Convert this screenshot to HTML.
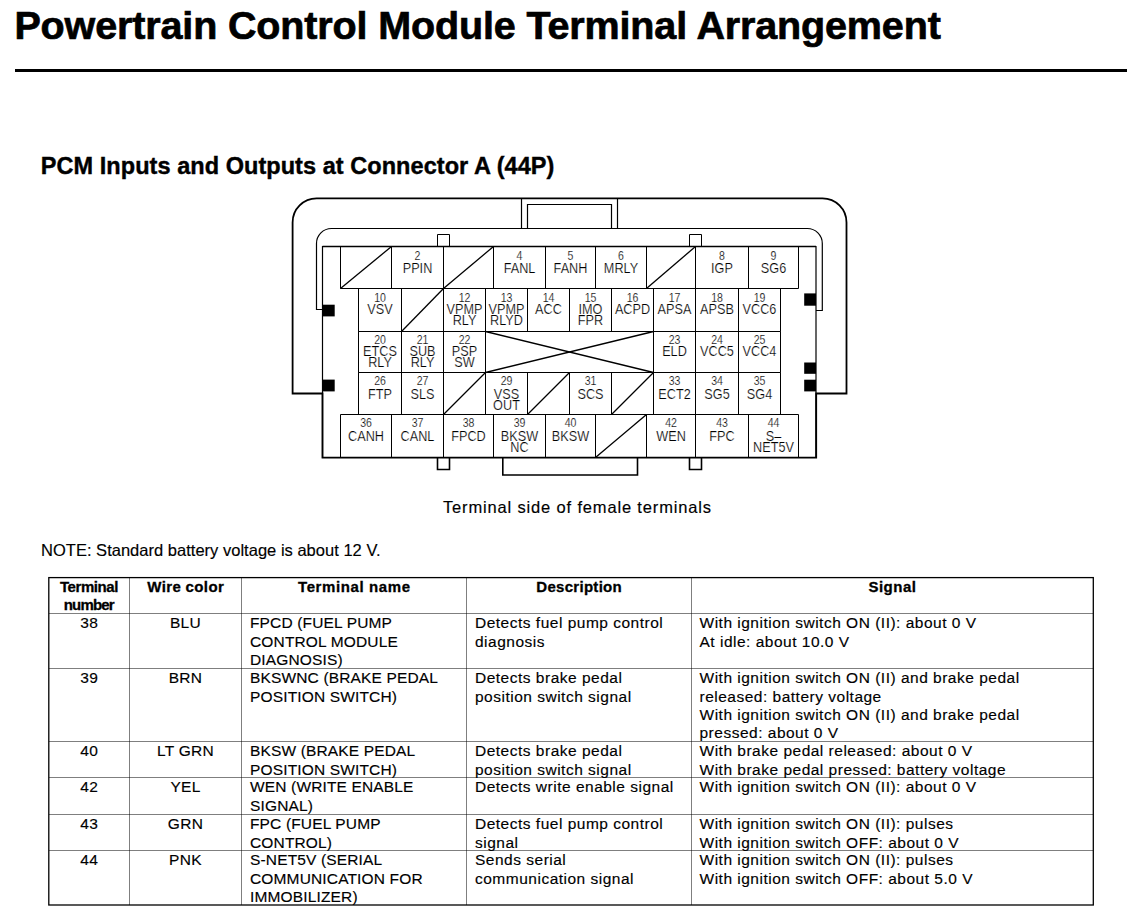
<!DOCTYPE html>
<html><head><meta charset="utf-8"><title>Powertrain Control Module Terminal Arrangement</title>
<style>
html,body{margin:0;padding:0;background:#fff;}
body{width:1134px;height:918px;overflow:hidden;position:relative;}
svg{position:absolute;left:0;top:0;display:block;}
text{font-family:"Liberation Sans", sans-serif;}
</style></head>
<body>
<svg width="1134" height="918" viewBox="0 0 1134 918" shape-rendering="auto">
<rect x="0" y="0" width="1134" height="918" fill="#fff"/>
<text x="14.4" y="39.2" font-size="39.5" font-weight="bold" textLength="926.4" lengthAdjust="spacing" stroke="#000" stroke-width="0.7">Powertrain Control Module Terminal Arrangement</text>
<rect x="15" y="69" width="1112" height="3" fill="#000"/>
<text x="40.8" y="174" font-size="23.5" font-weight="bold" textLength="513.6" lengthAdjust="spacing" stroke="#000" stroke-width="0.4">PCM Inputs and Outputs at Connector A (44P)</text>
<path d="M322.5 457.7 V393.5 H292.6 V222.4 A24 24 0 0 1 316.6 198.4 H822.5 A24 24 0 0 1 846.5 222.4 V393.5 H816.2 V457.7 Z" fill="none" stroke="#000" stroke-width="1.8"/>
<path d="M322.5 309.5 H316.5 V243.5 A15 15 0 0 1 331.5 228.5 H807.3 A15 15 0 0 1 822.3 243.5 V310.5 H816" fill="none" stroke="#000" stroke-width="1.2"/>
<path d="M521.5 198.4 V228.5" fill="none" stroke="#000" stroke-width="1.2"/>
<path d="M617.5 198.4 V228.5" fill="none" stroke="#000" stroke-width="1.2"/>
<path d="M527.5 228.5 V204.5 H611.5 V228.5" fill="none" stroke="#000" stroke-width="1.2"/>
<path d="M322.5 246.5 H816.0 V457.5 H322.5 Z" fill="none" stroke="#000" stroke-width="1.2"/>
<path d="M322.5 246.5 H816.0" fill="none" stroke="#000" stroke-width="1.5"/>
<path d="M437.5 246.5 V234.5 H449.5 V246.5" fill="none" stroke="#000" stroke-width="1.0"/>
<path d="M437.5 457.5 V469.5 H449.5 V457.5" fill="none" stroke="#000" stroke-width="1.6"/>
<path d="M689.5 246.5 V234.5 H701.5 V246.5" fill="none" stroke="#000" stroke-width="1.0"/>
<path d="M689.5 457.5 V469.5 H701.5 V457.5" fill="none" stroke="#000" stroke-width="1.6"/>
<path d="M502.8 457.5 V475 H637.5 V457.5" fill="none" stroke="#000" stroke-width="1.6"/>
<rect x="322.5" y="304.7" width="12.2" height="11.7" fill="#000"/>
<rect x="322.5" y="379.6" width="12.2" height="11.8" fill="#000"/>
<rect x="804.2" y="293.4" width="11.8" height="12.3" fill="#000"/>
<rect x="804.2" y="362.5" width="11.8" height="11.3" fill="#000"/>
<rect x="804.2" y="379.7" width="11.8" height="11.7" fill="#000"/>
<path d="M340.5 246.5 H798.5" fill="none" stroke="#000" stroke-width="1.0"/>
<path d="M340.5 288.5 H798.5" fill="none" stroke="#000" stroke-width="1.0"/>
<line x1="340.5" y1="246.5" x2="340.5" y2="288.5" stroke="#000" stroke-width="1.0"/>
<line x1="340.5" y1="288.5" x2="391.5" y2="246.5" stroke="#000" stroke-width="1.3"/>
<line x1="391.5" y1="246.5" x2="391.5" y2="288.5" stroke="#000" stroke-width="1.0"/>
<text transform="translate(417.5 259.9) scale(0.88 1)" font-size="12" text-anchor="middle" stroke="#fff" stroke-width="0.2">2</text>
<text transform="translate(417.5 272.9) scale(0.92 1)" font-size="13.8" text-anchor="middle" stroke="#fff" stroke-width="0.2">PPIN</text>
<line x1="443.5" y1="246.5" x2="443.5" y2="288.5" stroke="#000" stroke-width="1.0"/>
<line x1="443.5" y1="288.5" x2="493.5" y2="246.5" stroke="#000" stroke-width="1.3"/>
<line x1="493.5" y1="246.5" x2="493.5" y2="288.5" stroke="#000" stroke-width="1.0"/>
<text transform="translate(519.5 259.9) scale(0.88 1)" font-size="12" text-anchor="middle" stroke="#fff" stroke-width="0.2">4</text>
<text transform="translate(519.5 272.9) scale(0.92 1)" font-size="13.8" text-anchor="middle" stroke="#fff" stroke-width="0.2">FANL</text>
<line x1="545.5" y1="246.5" x2="545.5" y2="288.5" stroke="#000" stroke-width="1.0"/>
<text transform="translate(570.5 259.9) scale(0.88 1)" font-size="12" text-anchor="middle" stroke="#fff" stroke-width="0.2">5</text>
<text transform="translate(570.5 272.9) scale(0.92 1)" font-size="13.8" text-anchor="middle" stroke="#fff" stroke-width="0.2">FANH</text>
<line x1="595.5" y1="246.5" x2="595.5" y2="288.5" stroke="#000" stroke-width="1.0"/>
<text transform="translate(621.0 259.9) scale(0.88 1)" font-size="12" text-anchor="middle" stroke="#fff" stroke-width="0.2">6</text>
<text transform="translate(621.0 272.9) scale(0.92 1)" font-size="13.8" text-anchor="middle" stroke="#fff" stroke-width="0.2">MRLY</text>
<line x1="646.5" y1="246.5" x2="646.5" y2="288.5" stroke="#000" stroke-width="1.0"/>
<line x1="646.5" y1="288.5" x2="695.5" y2="246.5" stroke="#000" stroke-width="1.3"/>
<line x1="695.5" y1="246.5" x2="695.5" y2="288.5" stroke="#000" stroke-width="1.0"/>
<text transform="translate(722.0 259.9) scale(0.88 1)" font-size="12" text-anchor="middle" stroke="#fff" stroke-width="0.2">8</text>
<text transform="translate(722.0 272.9) scale(0.92 1)" font-size="13.8" text-anchor="middle" stroke="#fff" stroke-width="0.2">IGP</text>
<line x1="748.5" y1="246.5" x2="748.5" y2="288.5" stroke="#000" stroke-width="1.0"/>
<text transform="translate(773.5 259.9) scale(0.88 1)" font-size="12" text-anchor="middle" stroke="#fff" stroke-width="0.2">9</text>
<text transform="translate(773.5 272.9) scale(0.92 1)" font-size="13.8" text-anchor="middle" stroke="#fff" stroke-width="0.2">SG6</text>
<line x1="798.5" y1="246.5" x2="798.5" y2="288.5" stroke="#000" stroke-width="1.0"/>
<path d="M358.5 288.5 H780.5" fill="none" stroke="#000" stroke-width="1.0"/>
<path d="M358.5 331.5 H780.5" fill="none" stroke="#000" stroke-width="1.0"/>
<line x1="358.5" y1="288.5" x2="358.5" y2="331.5" stroke="#000" stroke-width="1.0"/>
<text transform="translate(380.0 301.6) scale(0.88 1)" font-size="12" text-anchor="middle" stroke="#fff" stroke-width="0.2">10</text>
<text transform="translate(380.0 314.3) scale(0.92 1)" font-size="13.8" text-anchor="middle" stroke="#fff" stroke-width="0.2">VSV</text>
<line x1="401.5" y1="288.5" x2="401.5" y2="331.5" stroke="#000" stroke-width="1.0"/>
<line x1="401.5" y1="331.5" x2="443.5" y2="288.5" stroke="#000" stroke-width="1.3"/>
<line x1="443.5" y1="288.5" x2="443.5" y2="331.5" stroke="#000" stroke-width="1.0"/>
<text transform="translate(464.5 301.6) scale(0.88 1)" font-size="12" text-anchor="middle" stroke="#fff" stroke-width="0.2">12</text>
<text transform="translate(464.5 314.3) scale(0.92 1)" font-size="13.8" text-anchor="middle" stroke="#fff" stroke-width="0.2">VPMP</text>
<text transform="translate(464.5 325.4) scale(0.92 1)" font-size="13.8" text-anchor="middle" stroke="#fff" stroke-width="0.2">RLY</text>
<line x1="485.5" y1="288.5" x2="485.5" y2="331.5" stroke="#000" stroke-width="1.0"/>
<text transform="translate(506.5 301.6) scale(0.88 1)" font-size="12" text-anchor="middle" stroke="#fff" stroke-width="0.2">13</text>
<text transform="translate(506.5 314.3) scale(0.92 1)" font-size="13.8" text-anchor="middle" stroke="#fff" stroke-width="0.2">VPMP</text>
<text transform="translate(506.5 325.4) scale(0.92 1)" font-size="13.8" text-anchor="middle" stroke="#fff" stroke-width="0.2">RLYD</text>
<line x1="527.5" y1="288.5" x2="527.5" y2="331.5" stroke="#000" stroke-width="1.0"/>
<text transform="translate(548.5 301.6) scale(0.88 1)" font-size="12" text-anchor="middle" stroke="#fff" stroke-width="0.2">14</text>
<text transform="translate(548.5 314.3) scale(0.92 1)" font-size="13.8" text-anchor="middle" stroke="#fff" stroke-width="0.2">ACC</text>
<line x1="569.5" y1="288.5" x2="569.5" y2="331.5" stroke="#000" stroke-width="1.0"/>
<text transform="translate(590.5 301.6) scale(0.88 1)" font-size="12" text-anchor="middle" stroke="#fff" stroke-width="0.2">15</text>
<text transform="translate(590.5 314.3) scale(0.92 1)" font-size="13.8" text-anchor="middle" stroke="#fff" stroke-width="0.2">IMO</text>
<text transform="translate(590.5 325.4) scale(0.92 1)" font-size="13.8" text-anchor="middle" stroke="#fff" stroke-width="0.2">FPR</text>
<line x1="611.5" y1="288.5" x2="611.5" y2="331.5" stroke="#000" stroke-width="1.0"/>
<text transform="translate(632.5 301.6) scale(0.88 1)" font-size="12" text-anchor="middle" stroke="#fff" stroke-width="0.2">16</text>
<text transform="translate(632.5 314.3) scale(0.92 1)" font-size="13.8" text-anchor="middle" stroke="#fff" stroke-width="0.2">ACPD</text>
<line x1="653.5" y1="288.5" x2="653.5" y2="331.5" stroke="#000" stroke-width="1.0"/>
<text transform="translate(674.5 301.6) scale(0.88 1)" font-size="12" text-anchor="middle" stroke="#fff" stroke-width="0.2">17</text>
<text transform="translate(674.5 314.3) scale(0.92 1)" font-size="13.8" text-anchor="middle" stroke="#fff" stroke-width="0.2">APSA</text>
<line x1="695.5" y1="288.5" x2="695.5" y2="331.5" stroke="#000" stroke-width="1.0"/>
<text transform="translate(717.0 301.6) scale(0.88 1)" font-size="12" text-anchor="middle" stroke="#fff" stroke-width="0.2">18</text>
<text transform="translate(717.0 314.3) scale(0.92 1)" font-size="13.8" text-anchor="middle" stroke="#fff" stroke-width="0.2">APSB</text>
<line x1="738.5" y1="288.5" x2="738.5" y2="331.5" stroke="#000" stroke-width="1.0"/>
<text transform="translate(759.5 301.6) scale(0.88 1)" font-size="12" text-anchor="middle" stroke="#fff" stroke-width="0.2">19</text>
<text transform="translate(759.5 314.3) scale(0.92 1)" font-size="13.8" text-anchor="middle" stroke="#fff" stroke-width="0.2">VCC6</text>
<line x1="780.5" y1="288.5" x2="780.5" y2="331.5" stroke="#000" stroke-width="1.0"/>
<path d="M358.5 331.5 H780.5" fill="none" stroke="#000" stroke-width="1.0"/>
<path d="M358.5 372.5 H780.5" fill="none" stroke="#000" stroke-width="1.0"/>
<line x1="358.5" y1="331.5" x2="358.5" y2="372.5" stroke="#000" stroke-width="1.0"/>
<text transform="translate(380.0 343.5) scale(0.88 1)" font-size="12" text-anchor="middle" stroke="#fff" stroke-width="0.2">20</text>
<text transform="translate(380.0 356.2) scale(0.92 1)" font-size="13.8" text-anchor="middle" stroke="#fff" stroke-width="0.2">ETCS</text>
<text transform="translate(380.0 366.7) scale(0.92 1)" font-size="13.8" text-anchor="middle" stroke="#fff" stroke-width="0.2">RLY</text>
<line x1="401.5" y1="331.5" x2="401.5" y2="372.5" stroke="#000" stroke-width="1.0"/>
<text transform="translate(422.5 343.5) scale(0.88 1)" font-size="12" text-anchor="middle" stroke="#fff" stroke-width="0.2">21</text>
<text transform="translate(422.5 356.2) scale(0.92 1)" font-size="13.8" text-anchor="middle" stroke="#fff" stroke-width="0.2">SUB</text>
<text transform="translate(422.5 366.7) scale(0.92 1)" font-size="13.8" text-anchor="middle" stroke="#fff" stroke-width="0.2">RLY</text>
<line x1="443.5" y1="331.5" x2="443.5" y2="372.5" stroke="#000" stroke-width="1.0"/>
<text transform="translate(464.5 343.5) scale(0.88 1)" font-size="12" text-anchor="middle" stroke="#fff" stroke-width="0.2">22</text>
<text transform="translate(464.5 356.2) scale(0.92 1)" font-size="13.8" text-anchor="middle" stroke="#fff" stroke-width="0.2">PSP</text>
<text transform="translate(464.5 366.7) scale(0.92 1)" font-size="13.8" text-anchor="middle" stroke="#fff" stroke-width="0.2">SW</text>
<line x1="485.5" y1="331.5" x2="485.5" y2="372.5" stroke="#000" stroke-width="1.0"/>
<line x1="653.5" y1="331.5" x2="653.5" y2="372.5" stroke="#000" stroke-width="1.0"/>
<text transform="translate(674.5 343.5) scale(0.88 1)" font-size="12" text-anchor="middle" stroke="#fff" stroke-width="0.2">23</text>
<text transform="translate(674.5 356.2) scale(0.92 1)" font-size="13.8" text-anchor="middle" stroke="#fff" stroke-width="0.2">ELD</text>
<line x1="695.5" y1="331.5" x2="695.5" y2="372.5" stroke="#000" stroke-width="1.0"/>
<text transform="translate(717.0 343.5) scale(0.88 1)" font-size="12" text-anchor="middle" stroke="#fff" stroke-width="0.2">24</text>
<text transform="translate(717.0 356.2) scale(0.92 1)" font-size="13.8" text-anchor="middle" stroke="#fff" stroke-width="0.2">VCC5</text>
<line x1="738.5" y1="331.5" x2="738.5" y2="372.5" stroke="#000" stroke-width="1.0"/>
<text transform="translate(759.5 343.5) scale(0.88 1)" font-size="12" text-anchor="middle" stroke="#fff" stroke-width="0.2">25</text>
<text transform="translate(759.5 356.2) scale(0.92 1)" font-size="13.8" text-anchor="middle" stroke="#fff" stroke-width="0.2">VCC4</text>
<line x1="780.5" y1="331.5" x2="780.5" y2="372.5" stroke="#000" stroke-width="1.0"/>
<path d="M358.5 372.5 H780.5" fill="none" stroke="#000" stroke-width="1.0"/>
<path d="M358.5 414.5 H780.5" fill="none" stroke="#000" stroke-width="1.0"/>
<line x1="358.5" y1="372.5" x2="358.5" y2="414.5" stroke="#000" stroke-width="1.0"/>
<text transform="translate(380.0 384.8) scale(0.88 1)" font-size="12" text-anchor="middle" stroke="#fff" stroke-width="0.2">26</text>
<text transform="translate(380.0 398.6) scale(0.92 1)" font-size="13.8" text-anchor="middle" stroke="#fff" stroke-width="0.2">FTP</text>
<line x1="401.5" y1="372.5" x2="401.5" y2="414.5" stroke="#000" stroke-width="1.0"/>
<text transform="translate(422.5 384.8) scale(0.88 1)" font-size="12" text-anchor="middle" stroke="#fff" stroke-width="0.2">27</text>
<text transform="translate(422.5 398.6) scale(0.92 1)" font-size="13.8" text-anchor="middle" stroke="#fff" stroke-width="0.2">SLS</text>
<line x1="443.5" y1="372.5" x2="443.5" y2="414.5" stroke="#000" stroke-width="1.0"/>
<line x1="443.5" y1="414.5" x2="485.5" y2="372.5" stroke="#000" stroke-width="1.3"/>
<line x1="485.5" y1="372.5" x2="485.5" y2="414.5" stroke="#000" stroke-width="1.0"/>
<text transform="translate(506.5 384.8) scale(0.88 1)" font-size="12" text-anchor="middle" stroke="#fff" stroke-width="0.2">29</text>
<text transform="translate(506.5 398.6) scale(0.92 1)" font-size="13.8" text-anchor="middle" stroke="#fff" stroke-width="0.2">VSS</text>
<text transform="translate(506.5 409.6) scale(0.92 1)" font-size="13.8" text-anchor="middle" stroke="#fff" stroke-width="0.2">OUT</text>
<line x1="527.5" y1="372.5" x2="527.5" y2="414.5" stroke="#000" stroke-width="1.0"/>
<line x1="527.5" y1="414.5" x2="569.5" y2="372.5" stroke="#000" stroke-width="1.3"/>
<line x1="569.5" y1="372.5" x2="569.5" y2="414.5" stroke="#000" stroke-width="1.0"/>
<text transform="translate(590.5 384.8) scale(0.88 1)" font-size="12" text-anchor="middle" stroke="#fff" stroke-width="0.2">31</text>
<text transform="translate(590.5 398.6) scale(0.92 1)" font-size="13.8" text-anchor="middle" stroke="#fff" stroke-width="0.2">SCS</text>
<line x1="611.5" y1="372.5" x2="611.5" y2="414.5" stroke="#000" stroke-width="1.0"/>
<line x1="611.5" y1="414.5" x2="653.5" y2="372.5" stroke="#000" stroke-width="1.3"/>
<line x1="653.5" y1="372.5" x2="653.5" y2="414.5" stroke="#000" stroke-width="1.0"/>
<text transform="translate(674.5 384.8) scale(0.88 1)" font-size="12" text-anchor="middle" stroke="#fff" stroke-width="0.2">33</text>
<text transform="translate(674.5 398.6) scale(0.92 1)" font-size="13.8" text-anchor="middle" stroke="#fff" stroke-width="0.2">ECT2</text>
<line x1="695.5" y1="372.5" x2="695.5" y2="414.5" stroke="#000" stroke-width="1.0"/>
<text transform="translate(717.0 384.8) scale(0.88 1)" font-size="12" text-anchor="middle" stroke="#fff" stroke-width="0.2">34</text>
<text transform="translate(717.0 398.6) scale(0.92 1)" font-size="13.8" text-anchor="middle" stroke="#fff" stroke-width="0.2">SG5</text>
<line x1="738.5" y1="372.5" x2="738.5" y2="414.5" stroke="#000" stroke-width="1.0"/>
<text transform="translate(759.5 384.8) scale(0.88 1)" font-size="12" text-anchor="middle" stroke="#fff" stroke-width="0.2">35</text>
<text transform="translate(759.5 398.6) scale(0.92 1)" font-size="13.8" text-anchor="middle" stroke="#fff" stroke-width="0.2">SG4</text>
<line x1="780.5" y1="372.5" x2="780.5" y2="414.5" stroke="#000" stroke-width="1.0"/>
<path d="M340.5 414.5 H798.5" fill="none" stroke="#000" stroke-width="1.0"/>
<path d="M340.5 457.5 H798.5" fill="none" stroke="#000" stroke-width="1.0"/>
<line x1="340.5" y1="414.5" x2="340.5" y2="457.5" stroke="#000" stroke-width="1.0"/>
<text transform="translate(366.0 427.0) scale(0.88 1)" font-size="12" text-anchor="middle" stroke="#fff" stroke-width="0.2">36</text>
<text transform="translate(366.0 440.6) scale(0.92 1)" font-size="13.8" text-anchor="middle" stroke="#fff" stroke-width="0.2">CANH</text>
<line x1="391.5" y1="414.5" x2="391.5" y2="457.5" stroke="#000" stroke-width="1.0"/>
<text transform="translate(417.5 427.0) scale(0.88 1)" font-size="12" text-anchor="middle" stroke="#fff" stroke-width="0.2">37</text>
<text transform="translate(417.5 440.6) scale(0.92 1)" font-size="13.8" text-anchor="middle" stroke="#fff" stroke-width="0.2">CANL</text>
<line x1="443.5" y1="414.5" x2="443.5" y2="457.5" stroke="#000" stroke-width="1.0"/>
<text transform="translate(468.5 427.0) scale(0.88 1)" font-size="12" text-anchor="middle" stroke="#fff" stroke-width="0.2">38</text>
<text transform="translate(468.5 440.6) scale(0.92 1)" font-size="13.8" text-anchor="middle" stroke="#fff" stroke-width="0.2">FPCD</text>
<line x1="493.5" y1="414.5" x2="493.5" y2="457.5" stroke="#000" stroke-width="1.0"/>
<text transform="translate(519.5 427.0) scale(0.88 1)" font-size="12" text-anchor="middle" stroke="#fff" stroke-width="0.2">39</text>
<text transform="translate(519.5 440.6) scale(0.92 1)" font-size="13.8" text-anchor="middle" stroke="#fff" stroke-width="0.2">BKSW</text>
<text transform="translate(519.5 451.7) scale(0.92 1)" font-size="13.8" text-anchor="middle" stroke="#fff" stroke-width="0.2">NC</text>
<line x1="545.5" y1="414.5" x2="545.5" y2="457.5" stroke="#000" stroke-width="1.0"/>
<text transform="translate(570.5 427.0) scale(0.88 1)" font-size="12" text-anchor="middle" stroke="#fff" stroke-width="0.2">40</text>
<text transform="translate(570.5 440.6) scale(0.92 1)" font-size="13.8" text-anchor="middle" stroke="#fff" stroke-width="0.2">BKSW</text>
<line x1="595.5" y1="414.5" x2="595.5" y2="457.5" stroke="#000" stroke-width="1.0"/>
<line x1="595.5" y1="457.5" x2="646.5" y2="414.5" stroke="#000" stroke-width="1.3"/>
<line x1="646.5" y1="414.5" x2="646.5" y2="457.5" stroke="#000" stroke-width="1.0"/>
<text transform="translate(671.0 427.0) scale(0.88 1)" font-size="12" text-anchor="middle" stroke="#fff" stroke-width="0.2">42</text>
<text transform="translate(671.0 440.6) scale(0.92 1)" font-size="13.8" text-anchor="middle" stroke="#fff" stroke-width="0.2">WEN</text>
<line x1="695.5" y1="414.5" x2="695.5" y2="457.5" stroke="#000" stroke-width="1.0"/>
<text transform="translate(722.0 427.0) scale(0.88 1)" font-size="12" text-anchor="middle" stroke="#fff" stroke-width="0.2">43</text>
<text transform="translate(722.0 440.6) scale(0.92 1)" font-size="13.8" text-anchor="middle" stroke="#fff" stroke-width="0.2">FPC</text>
<line x1="748.5" y1="414.5" x2="748.5" y2="457.5" stroke="#000" stroke-width="1.0"/>
<text transform="translate(773.5 427.0) scale(0.88 1)" font-size="12" text-anchor="middle" stroke="#fff" stroke-width="0.2">44</text>
<text transform="translate(773.5 440.6) scale(0.92 1)" font-size="13.8" text-anchor="middle" stroke="#fff" stroke-width="0.2">S–</text>
<text transform="translate(773.5 451.7) scale(0.92 1)" font-size="13.8" text-anchor="middle" stroke="#fff" stroke-width="0.2">NET5V</text>
<line x1="798.5" y1="414.5" x2="798.5" y2="457.5" stroke="#000" stroke-width="1.0"/>
<line x1="485.5" y1="331.5" x2="653.5" y2="372.5" stroke="#000" stroke-width="1.3"/>
<line x1="485.5" y1="372.5" x2="653.5" y2="331.5" stroke="#000" stroke-width="1.3"/>
<text x="443" y="512.5" font-size="16.5" textLength="268" lengthAdjust="spacing" stroke="#000" stroke-width="0.15">Terminal side of female terminals</text>
<text x="41" y="556" font-size="16.5" textLength="339.5" lengthAdjust="spacing" stroke="#000" stroke-width="0.15">NOTE: Standard battery voltage is about 12 V.</text>
<line x1="129.5" y1="578" x2="129.5" y2="905" stroke="#000" stroke-opacity="0.5" stroke-width="1"/>
<line x1="241.5" y1="578" x2="241.5" y2="905" stroke="#000" stroke-opacity="0.5" stroke-width="1"/>
<line x1="466.5" y1="578" x2="466.5" y2="905" stroke="#000" stroke-opacity="0.5" stroke-width="1"/>
<line x1="691.5" y1="578" x2="691.5" y2="905" stroke="#000" stroke-opacity="0.5" stroke-width="1"/>
<line x1="49" y1="613.5" x2="1093" y2="613.5" stroke="#000" stroke-opacity="0.5" stroke-width="1"/>
<line x1="49" y1="668.5" x2="1093" y2="668.5" stroke="#000" stroke-opacity="0.5" stroke-width="1"/>
<line x1="49" y1="741.5" x2="1093" y2="741.5" stroke="#000" stroke-opacity="0.5" stroke-width="1"/>
<line x1="49" y1="777.5" x2="1093" y2="777.5" stroke="#000" stroke-opacity="0.5" stroke-width="1"/>
<line x1="49" y1="814.5" x2="1093" y2="814.5" stroke="#000" stroke-opacity="0.5" stroke-width="1"/>
<line x1="49" y1="850.5" x2="1093" y2="850.5" stroke="#000" stroke-opacity="0.5" stroke-width="1"/>
<rect x="48.8" y="577.6" width="1044.5" height="327.4" fill="none" stroke="#000" stroke-width="1.3"/>
<text x="89.2" y="592.0" font-size="15" font-weight="bold" text-anchor="middle" textLength="58.5" lengthAdjust="spacing" stroke="#000" stroke-width="0.3">Terminal</text>
<text x="89.2" y="610.4" font-size="15" font-weight="bold" text-anchor="middle" textLength="51" lengthAdjust="spacing" stroke="#000" stroke-width="0.3">number</text>
<text x="185.5" y="592.0" font-size="15" font-weight="bold" text-anchor="middle" textLength="76.5" lengthAdjust="spacing" stroke="#000" stroke-width="0.3">Wire color</text>
<text x="354.0" y="592.0" font-size="15" font-weight="bold" text-anchor="middle" textLength="112" lengthAdjust="spacing" stroke="#000" stroke-width="0.3">Terminal name</text>
<text x="579.0" y="592.0" font-size="15" font-weight="bold" text-anchor="middle" textLength="85.5" lengthAdjust="spacing" stroke="#000" stroke-width="0.3">Description</text>
<text x="892.2" y="592.0" font-size="15" font-weight="bold" text-anchor="middle" textLength="47.5" lengthAdjust="spacing" stroke="#000" stroke-width="0.3">Signal</text>
<text x="89.2" y="628.4" font-size="15.5" text-anchor="middle" letter-spacing="0.3" stroke="#000" stroke-width="0.15">38</text>
<text x="185.5" y="628.4" font-size="15.5" text-anchor="middle" letter-spacing="0.3" stroke="#000" stroke-width="0.15">BLU</text>
<text x="250" y="628.4" font-size="15.5" letter-spacing="0.15" stroke="#000" stroke-width="0.15">FPCD (FUEL PUMP</text>
<text x="250" y="646.6" font-size="15.5" letter-spacing="0.15" stroke="#000" stroke-width="0.15">CONTROL MODULE</text>
<text x="250" y="664.8" font-size="15.5" letter-spacing="0.15" stroke="#000" stroke-width="0.15">DIAGNOSIS)</text>
<text x="475" y="628.4" font-size="15.5" letter-spacing="0.5" stroke="#000" stroke-width="0.15">Detects fuel pump control</text>
<text x="475" y="646.6" font-size="15.5" letter-spacing="0.5" stroke="#000" stroke-width="0.15">diagnosis</text>
<text x="699.5" y="628.4" font-size="15.5" letter-spacing="0.5" stroke="#000" stroke-width="0.15">With ignition switch ON (II): about 0 V</text>
<text x="699.5" y="646.6" font-size="15.5" letter-spacing="0.5" stroke="#000" stroke-width="0.15">At idle: about 10.0 V</text>
<text x="89.2" y="683.4" font-size="15.5" text-anchor="middle" letter-spacing="0.3" stroke="#000" stroke-width="0.15">39</text>
<text x="185.5" y="683.4" font-size="15.5" text-anchor="middle" letter-spacing="0.3" stroke="#000" stroke-width="0.15">BRN</text>
<text x="250" y="683.4" font-size="15.5" letter-spacing="0.15" stroke="#000" stroke-width="0.15">BKSWNC (BRAKE PEDAL</text>
<text x="250" y="701.6" font-size="15.5" letter-spacing="0.15" stroke="#000" stroke-width="0.15">POSITION SWITCH)</text>
<text x="475" y="683.4" font-size="15.5" letter-spacing="0.5" stroke="#000" stroke-width="0.15">Detects brake pedal</text>
<text x="475" y="701.6" font-size="15.5" letter-spacing="0.5" stroke="#000" stroke-width="0.15">position switch signal</text>
<text x="699.5" y="683.4" font-size="15.5" letter-spacing="0.5" stroke="#000" stroke-width="0.15">With ignition switch ON (II) and brake pedal</text>
<text x="699.5" y="701.6" font-size="15.5" letter-spacing="0.5" stroke="#000" stroke-width="0.15">released: battery voltage</text>
<text x="699.5" y="719.8" font-size="15.5" letter-spacing="0.5" stroke="#000" stroke-width="0.15">With ignition switch ON (II) and brake pedal</text>
<text x="699.5" y="738.0" font-size="15.5" letter-spacing="0.5" stroke="#000" stroke-width="0.15">pressed: about 0 V</text>
<text x="89.2" y="756.4" font-size="15.5" text-anchor="middle" letter-spacing="0.3" stroke="#000" stroke-width="0.15">40</text>
<text x="185.5" y="756.4" font-size="15.5" text-anchor="middle" letter-spacing="0.3" stroke="#000" stroke-width="0.15">LT GRN</text>
<text x="250" y="756.4" font-size="15.5" letter-spacing="0.15" stroke="#000" stroke-width="0.15">BKSW (BRAKE PEDAL</text>
<text x="250" y="774.6" font-size="15.5" letter-spacing="0.15" stroke="#000" stroke-width="0.15">POSITION SWITCH)</text>
<text x="475" y="756.4" font-size="15.5" letter-spacing="0.5" stroke="#000" stroke-width="0.15">Detects brake pedal</text>
<text x="475" y="774.6" font-size="15.5" letter-spacing="0.5" stroke="#000" stroke-width="0.15">position switch signal</text>
<text x="699.5" y="756.4" font-size="15.5" letter-spacing="0.5" stroke="#000" stroke-width="0.15">With brake pedal released: about 0 V</text>
<text x="699.5" y="774.6" font-size="15.5" letter-spacing="0.5" stroke="#000" stroke-width="0.15">With brake pedal pressed: battery voltage</text>
<text x="89.2" y="792.4" font-size="15.5" text-anchor="middle" letter-spacing="0.3" stroke="#000" stroke-width="0.15">42</text>
<text x="185.5" y="792.4" font-size="15.5" text-anchor="middle" letter-spacing="0.3" stroke="#000" stroke-width="0.15">YEL</text>
<text x="250" y="792.4" font-size="15.5" letter-spacing="0.15" stroke="#000" stroke-width="0.15">WEN (WRITE ENABLE</text>
<text x="250" y="810.6" font-size="15.5" letter-spacing="0.15" stroke="#000" stroke-width="0.15">SIGNAL)</text>
<text x="475" y="792.4" font-size="15.5" letter-spacing="0.5" stroke="#000" stroke-width="0.15">Detects write enable signal</text>
<text x="699.5" y="792.4" font-size="15.5" letter-spacing="0.5" stroke="#000" stroke-width="0.15">With ignition switch ON (II): about 0 V</text>
<text x="89.2" y="829.4" font-size="15.5" text-anchor="middle" letter-spacing="0.3" stroke="#000" stroke-width="0.15">43</text>
<text x="185.5" y="829.4" font-size="15.5" text-anchor="middle" letter-spacing="0.3" stroke="#000" stroke-width="0.15">GRN</text>
<text x="250" y="829.4" font-size="15.5" letter-spacing="0.15" stroke="#000" stroke-width="0.15">FPC (FUEL PUMP</text>
<text x="250" y="847.6" font-size="15.5" letter-spacing="0.15" stroke="#000" stroke-width="0.15">CONTROL)</text>
<text x="475" y="829.4" font-size="15.5" letter-spacing="0.5" stroke="#000" stroke-width="0.15">Detects fuel pump control</text>
<text x="475" y="847.6" font-size="15.5" letter-spacing="0.5" stroke="#000" stroke-width="0.15">signal</text>
<text x="699.5" y="829.4" font-size="15.5" letter-spacing="0.5" stroke="#000" stroke-width="0.15">With ignition switch ON (II): pulses</text>
<text x="699.5" y="847.6" font-size="15.5" letter-spacing="0.5" stroke="#000" stroke-width="0.15">With ignition switch OFF: about 0 V</text>
<text x="89.2" y="865.4" font-size="15.5" text-anchor="middle" letter-spacing="0.3" stroke="#000" stroke-width="0.15">44</text>
<text x="185.5" y="865.4" font-size="15.5" text-anchor="middle" letter-spacing="0.3" stroke="#000" stroke-width="0.15">PNK</text>
<text x="250" y="865.4" font-size="15.5" letter-spacing="0.15" stroke="#000" stroke-width="0.15">S-NET5V (SERIAL</text>
<text x="250" y="883.6" font-size="15.5" letter-spacing="0.15" stroke="#000" stroke-width="0.15">COMMUNICATION FOR</text>
<text x="250" y="901.8" font-size="15.5" letter-spacing="0.15" stroke="#000" stroke-width="0.15">IMMOBILIZER)</text>
<text x="475" y="865.4" font-size="15.5" letter-spacing="0.5" stroke="#000" stroke-width="0.15">Sends serial</text>
<text x="475" y="883.6" font-size="15.5" letter-spacing="0.5" stroke="#000" stroke-width="0.15">communication signal</text>
<text x="699.5" y="865.4" font-size="15.5" letter-spacing="0.5" stroke="#000" stroke-width="0.15">With ignition switch ON (II): pulses</text>
<text x="699.5" y="883.6" font-size="15.5" letter-spacing="0.5" stroke="#000" stroke-width="0.15">With ignition switch OFF: about 5.0 V</text>
</svg>
</body></html>
